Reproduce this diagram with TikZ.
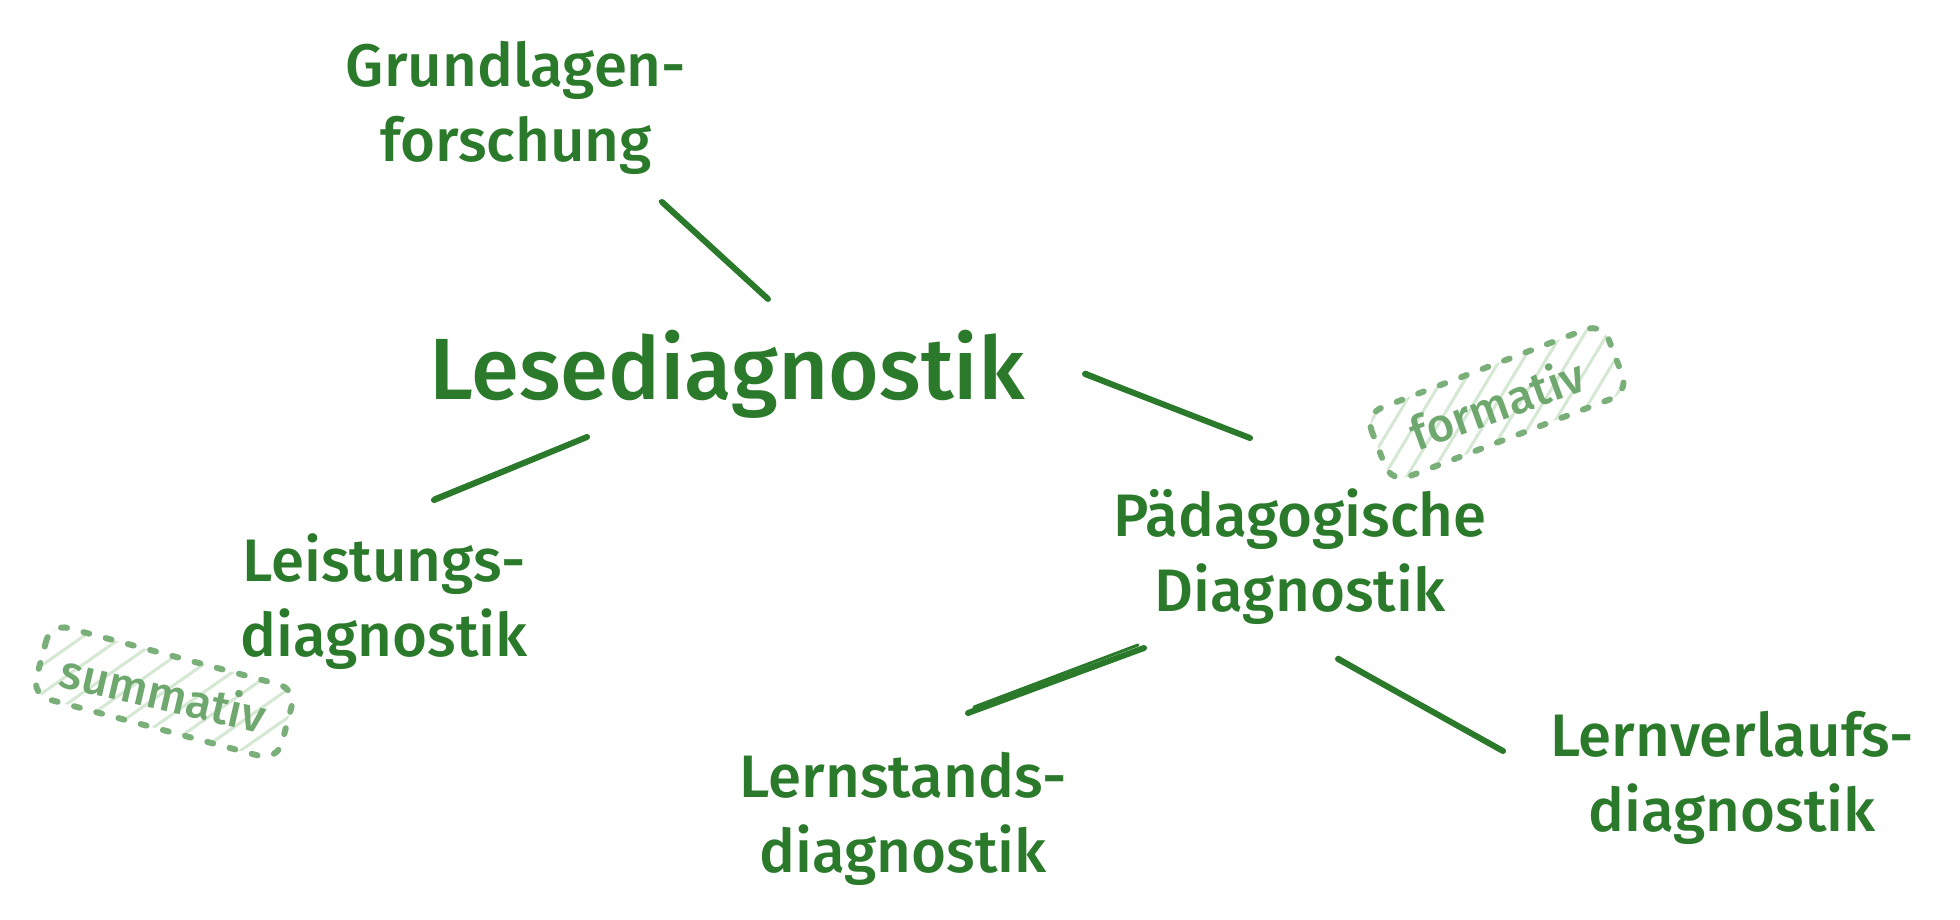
\documentclass[tikz,border=0pt]{standalone}
\usepackage{fontspec}
\setmainfont{Fira Sans Medium}
\definecolor{ink}{HTML}{2B7A2B}
\definecolor{tagline}{HTML}{7AAF7A}
\definecolor{taghatch}{HTML}{D4E8D3}
\definecolor{tagink}{HTML}{6FA86F}
\begin{document}
\begin{tikzpicture}[x=1pt,y=-1pt,
  lbl/.style={text=ink,font=\fontsize{60}{75}\selectfont,align=center,inner sep=0pt},
  bigl/.style={text=ink,font=\fontsize{87}{100}\selectfont,inner sep=0pt},
  conn/.style={draw=ink,line width=6pt,line cap=round},
  conntwo/.style={draw=ink,line width=3pt,line cap=round},
  hatchline/.style={draw=taghatch,line width=3pt,line cap=round},
  tagborder/.style={draw=tagline,line width=6pt,line cap=round,dash pattern=on 6pt off 17pt,rounded corners=18pt},
  tagtext/.style={text=tagink,font=\fontsize{47}{50}\selectfont,inner sep=0pt}]
\useasboundingbox (0,0) rectangle (1960,919);

% nodes
\node[lbl] (grund) at (516,108) {Grundlagen-\\forschung};
\node[bigl] (lese) at (727,374) {Lesediagnostik};
\node[lbl] (leist) at (384,602) {Leistungs-\\diagnostik};
\node[lbl] (paed) at (1300,557) {Pädagogische\\Diagnostik};
\node[lbl] (lernst) at (903,819) {Lernstands-\\diagnostik};
\node[lbl] (lernv) at (1732,778) {Lernverlaufs-\\diagnostik};

% connector end points
\coordinate (g1) at (662,202);
\coordinate (g2) at (768,299);
\coordinate (p1) at (1085,374);
\coordinate (p2) at (1250,438);
\coordinate (l1) at (587,437);
\coordinate (l2) at (434,500);
\coordinate (s1) at (1144,648);
\coordinate (s2) at (968,713);
\coordinate (v1) at (1338,659);
\coordinate (v2) at (1503,751);

\draw[conn] (g1) -- (g2);
\draw[conntwo] ([xshift=-2pt,yshift=1pt]g1) -- ([xshift=-1pt,yshift=2pt]g2);
\draw[conn] (p1) -- (p2);
\draw[conntwo] ([yshift=2pt]p1) -- ([yshift=-1pt]p2);
\draw[conn] (l1) -- (l2);
\draw[conntwo] ([yshift=1pt]l1) -- ([yshift=2pt]l2);
\draw[conn] (s1) -- (s2);
\draw[conntwo] ([xshift=-6pt,yshift=3pt]s1) -- ([xshift=6pt,yshift=6pt]s2);
\draw[conn] (v1) -- (v2);
\draw[conntwo] ([yshift=2pt]v1) -- ([yshift=-1pt]v2);

% summativ tag
\begin{scope}[shift={(164,692)},rotate=-15]
  \begin{scope}
    \clip[rounded corners=18pt] (-127,-37) rectangle (127,37);
    \foreach \k in {-9,...,9}
      \draw[hatchline] ([shift={(-50:110)}]\k*30,0) -- ([shift={(130:110)}]\k*30,0);
  \end{scope}
  \draw[tagborder] (-127,-37) rectangle (127,37);
  \node[tagtext,rotate=-13] (summ) at (0,0) {summativ};
\end{scope}

% formativ tag
\begin{scope}[shift={(1497,403)},rotate=21]
  \begin{scope}
    \clip[rounded corners=18pt] (-127,-37) rectangle (127,37);
    \foreach \k in {-9,...,9}
      \draw[hatchline] ([shift={(-38:110)}]\k*32,0) -- ([shift={(142:110)}]\k*32,0);
  \end{scope}
  \draw[tagborder] (-127,-37) rectangle (127,37);
  \node[tagtext,rotate=20] (form) at (0,0) {formativ};
\end{scope}
\end{tikzpicture}
\end{document}
